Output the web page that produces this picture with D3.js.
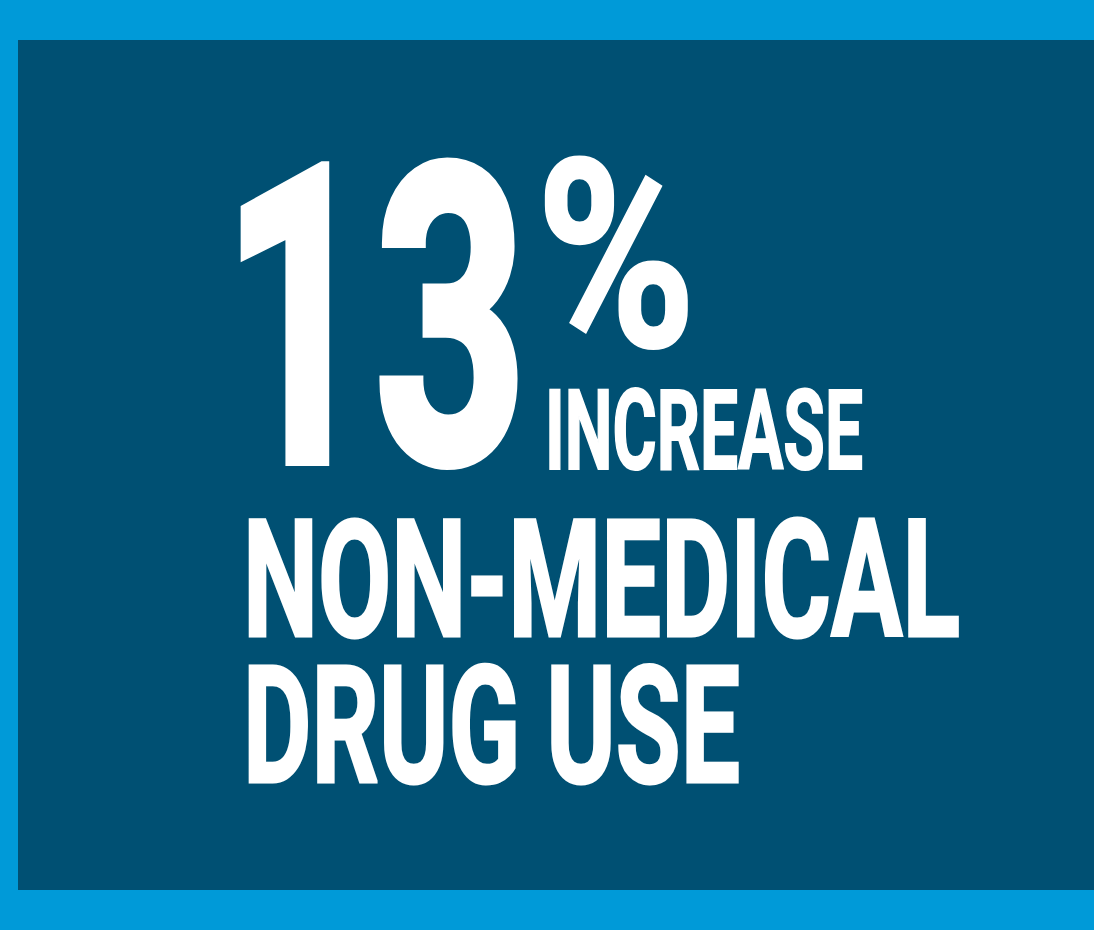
<!DOCTYPE html>
<html>
<head>
<meta charset="utf-8">
<script src="https://cdn.jsdelivr.net/npm/d3@7"></script>
<style>
  html, body { margin: 0; padding: 0; background: #009ad8; }
  svg { display: block; }
  text { font-family: Roboto, "Liberation Sans", sans-serif; font-weight: 700; fill: #fff; }
</style>
</head>
<body>
<div id="panel"></div>
<script>
var width = 1094, height = 930;

// figures shown on the card
var statValue = ["13"];
var statUnit = ["%"];
var statWord = ["INCREASE"];
var labelLines = ["NON-MEDICAL", "DRUG USE"];

var svg = d3.select("#panel")
    .append("svg")
    .attr("width", width)
    .attr("height", height)
    .attr("viewBox", "0 0 " + width + " " + height);

svg.append("rect")
    .attr("width", width).attr("height", height)
    .attr("fill", "#009ad8");

svg.append("rect")
    .attr("x", 18).attr("y", 40)
    .attr("width", width - 18).attr("height", 850)
    .attr("fill", "#005073");

// line positions for the label rows
var y = d3.scaleBand().domain(labelLines).range([520, 782]).paddingInner(0.2);

// squeeze text horizontally to a target width (condensed look)
function put(sel, x, yy, size, len, stroke) {
  sel.attr("font-size", size)
     .attr("stroke", "#fff")
     .attr("stroke-width", stroke)
     .attr("stroke-linejoin", "miter");
  var w = sel.node().getComputedTextLength();
  sel.attr("transform", "translate(" + x + "," + yy + ") scale(" + (len / w) + ",1)");
}

svg.selectAll(".num").data(statValue).enter().append("text")
    .attr("class", "num")
    .text(function(d) { return d; })
    .each(function() { put(d3.select(this), 222, 461, 414, 305, 10); });

svg.selectAll(".unit").data(statUnit).enter().append("text")
    .attr("class", "unit")
    .text(function(d) { return d; })
    .each(function() { put(d3.select(this), 536, 346, 262, 160, 3); });

svg.selectAll(".word").data(statWord).enter().append("text")
    .attr("class", "word")
    .text(function(d) { return d; })
    .each(function() { put(d3.select(this), 545, 469, 111, 318, 2); });

svg.selectAll(".lbl").data(labelLines).enter().append("text")
    .attr("class", "lbl")
    .text(function(d) { return d; })
    .each(function(d, i) {
      put(d3.select(this), 243, y(d) + y.bandwidth(), 163, i === 0 ? 717 : 497, 3);
    });
</script>
</body>
</html>
